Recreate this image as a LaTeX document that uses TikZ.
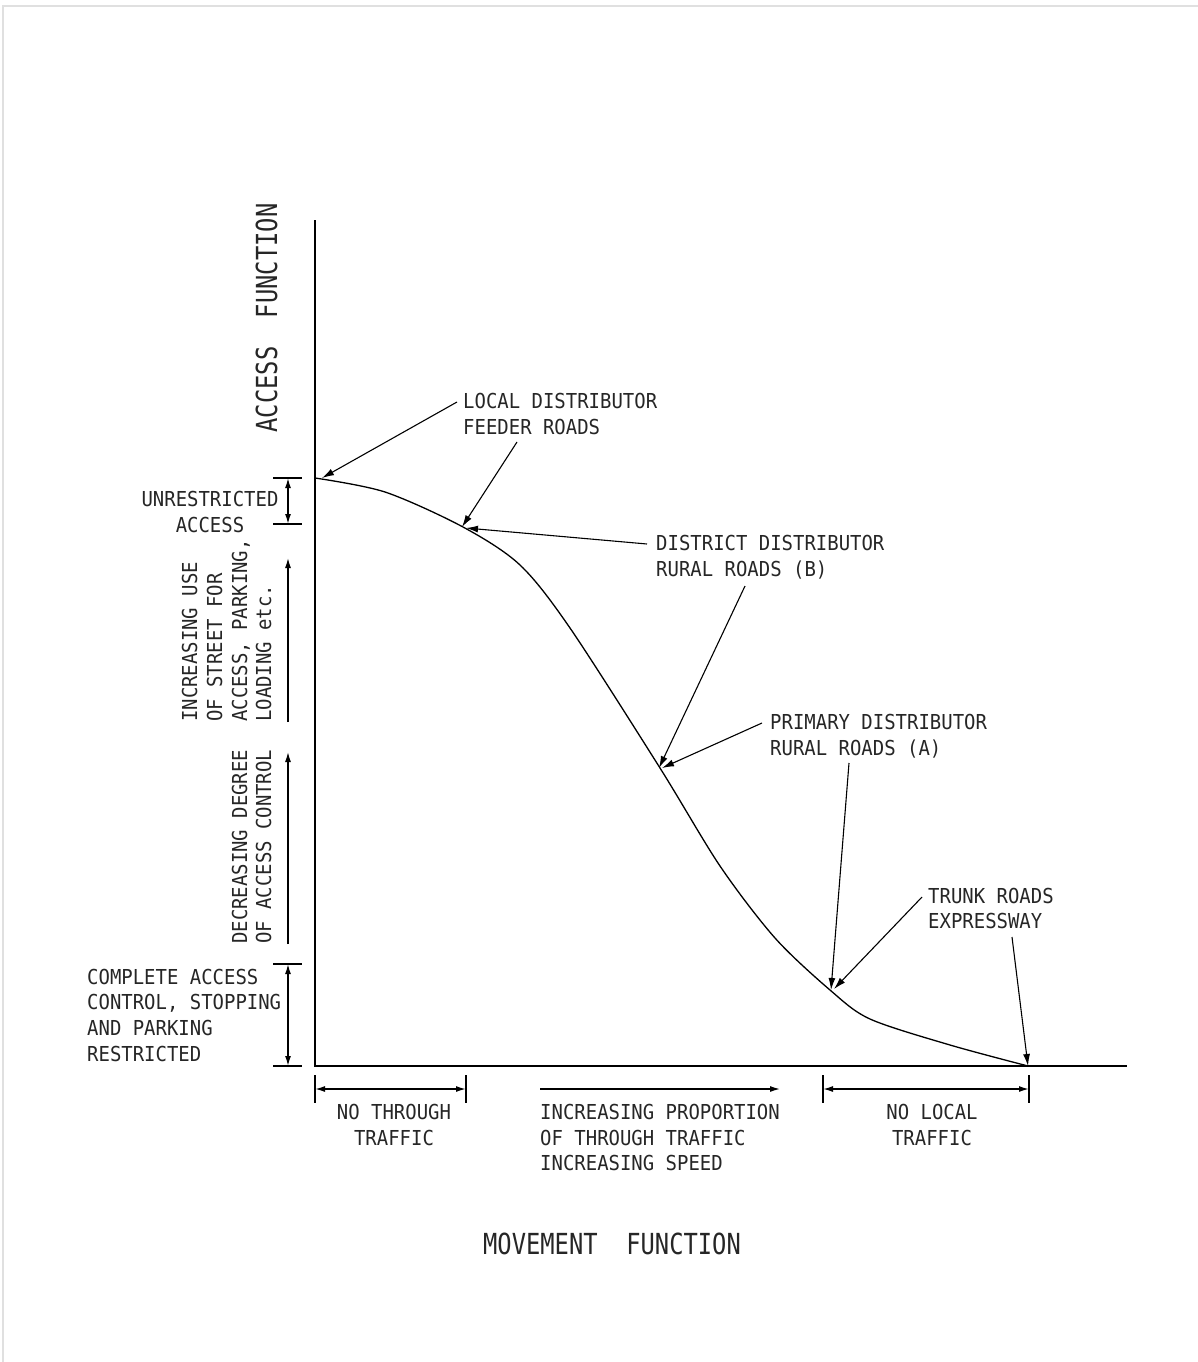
\documentclass[tikz,border=0pt]{standalone}
\usepackage{fontspec}
\usetikzlibrary{arrows.meta}
\newfontfamily\cadsmall[FakeStretch=0.92]{DejaVu Sans Mono}
\newfontfamily\cadbig[FakeStretch=0.82]{DejaVu Sans Mono}
\begin{document}
\begin{tikzpicture}[x=1pt,y=-1pt,
  lbl/.style={font=\cadsmall\fontsize{20.6}{25}\selectfont, inner sep=0pt, anchor=base west, text=black!85},
  lblc/.style={lbl, anchor=base},
  rlbl/.style={lbl, rotate=90, anchor=base west},
  bigtxt/.style={font=\cadbig\fontsize{29}{34}\selectfont, inner sep=0pt, anchor=base, text=black!85},
  leader/.style={line width=1.1pt, -{Latex[length=12pt,width=7pt]}},
  dimline/.style={line width=1.5pt, {Latex[length=10pt,width=6pt]}-{Latex[length=10pt,width=6pt]}},
  uparrow/.style={line width=1.3pt, -{Latex[length=10pt,width=6pt]}},
  tickline/.style={line width=1.2pt},
  axisline/.style={line width=1.8pt},
  curveline/.style={line width=1.3pt}
]
\useasboundingbox (0,0) rectangle (1198,1362);
\draw[black!12, line width=1.5pt] (3,1362) -- (3,6) -- (1198,6);

% axes
\coordinate (O) at (315,1066);
\coordinate (Ytop) at (315,220);
\coordinate (Xend) at (1127,1066);
\draw[axisline] (Ytop) -- (O) -- (Xend);

% curve
\draw[curveline] plot[smooth,tension=0.5] coordinates {(315,478) (385,492) (463,527) (520,565) (570,628) (660,768) (720,866) (775,938) (830,990) (870,1019) (950,1045) (1028,1066)};

% curve points for leaders
\coordinate (c0) at (322,478);
\coordinate (c1) at (462,527);
\coordinate (c1b) at (466,528);
\coordinate (c2) at (659,768);
\coordinate (c2b) at (662,768);
\coordinate (c3) at (831,990);
\coordinate (c3b) at (834,989);
\coordinate (c4) at (1028,1066);

% labels
\node[lbl] (t1a) at (463,408) {LOCAL DISTRIBUTOR};
\node[lbl] (t1b) at (463,434) {FEEDER ROADS};
\node[lbl] (t2a) at (656,550) {DISTRICT DISTRIBUTOR};
\node[lbl] (t2b) at (656,576) {RURAL ROADS (B)};
\node[lbl] (t3a) at (770,729) {PRIMARY DISTRIBUTOR};
\node[lbl] (t3b) at (770,755) {RURAL ROADS (A)};
\node[lbl] (t4a) at (928,903) {TRUNK ROADS};
\node[lbl] (t4b) at (928,928) {EXPRESSWAY};

% leader start points
\coordinate (s1) at (457,402);
\coordinate (s1b) at (517,442);
\coordinate (s2) at (647,544);
\coordinate (s2b) at (745,586);
\coordinate (s3) at (762,723);
\coordinate (s3b) at (849,763);
\coordinate (s4) at (922,897);
\coordinate (s4b) at (1012,937);

\draw[leader] (s1) -- (c0);
\draw[leader] (s1b) -- (c1);
\draw[leader] (s2) -- (c1b);
\draw[leader] (s2b) -- (c2);
\draw[leader] (s3) -- (c2b);
\draw[leader] (s3b) -- (c3);
\draw[leader] (s4) -- (c3b);
\draw[leader] (s4b) -- (c4);

% left dimension: unrestricted access
\coordinate (ua1) at (273,478); \coordinate (ua2) at (302,478);
\coordinate (ub1) at (273,524); \coordinate (ub2) at (302,524);
\draw[tickline] (ua1) -- (ua2);
\draw[tickline] (ub1) -- (ub2);
\coordinate (ud1) at (288,478); \coordinate (ud2) at (288,524);
\draw[dimline] (ud1) -- (ud2);
\node[lblc] (u1) at (210,506) {UNRESTRICTED};
\node[lblc] (u2) at (210,532) {ACCESS};

% up arrows
\coordinate (ar1a) at (288,722); \coordinate (ar1b) at (288,558);
\coordinate (ar2a) at (288,944); \coordinate (ar2b) at (288,752);
\draw[uparrow] (ar1a) -- (ar1b);
\draw[uparrow] (ar2a) -- (ar2b);
\node[rlbl] (r1) at (197,722) {INCREASING USE};
\node[rlbl] (r2) at (222,722) {OF STREET FOR};
\node[rlbl] (r3) at (247,722) {ACCESS, PARKING,};
\node[rlbl] (r4) at (271,722) {LOADING etc.};
\node[rlbl] (r5) at (247,944) {DECREASING DEGREE};
\node[rlbl] (r6) at (271,944) {OF ACCESS CONTROL};

% complete access control
\coordinate (ca1) at (273,964); \coordinate (ca2) at (302,964);
\coordinate (cb1) at (273,1066); \coordinate (cb2) at (302,1066);
\draw[tickline] (ca1) -- (ca2);
\draw[tickline] (cb1) -- (cb2);
\coordinate (cd1) at (288,964); \coordinate (cd2) at (288,1066);
\draw[dimline] (cd1) -- (cd2);
\node[lbl] (k1) at (87,984) {COMPLETE ACCESS};
\node[lbl] (k2) at (87,1009) {CONTROL, STOPPING};
\node[lbl] (k3) at (87,1035) {AND PARKING};
\node[lbl] (k4) at (87,1061) {RESTRICTED};

% bottom: no through traffic
\coordinate (na1) at (315,1075); \coordinate (na2) at (315,1103);
\coordinate (nb1) at (466,1075); \coordinate (nb2) at (466,1103);
\draw[tickline] (na1) -- (na2);
\draw[tickline] (nb1) -- (nb2);
\coordinate (nd1) at (315,1089); \coordinate (nd2) at (466,1089);
\draw[dimline] (nd1) -- (nd2);
\node[lblc] (n1) at (394,1119) {NO THROUGH};
\node[lblc] (n2) at (394,1145) {TRAFFIC};

% increasing proportion
\coordinate (pa) at (540,1089); \coordinate (pb) at (780,1089);
\draw[uparrow] (pa) -- (pb);
\node[lbl] (p1) at (540,1119) {INCREASING PROPORTION};
\node[lbl] (p2) at (540,1145) {OF THROUGH TRAFFIC};
\node[lbl] (p3) at (540,1170) {INCREASING SPEED};

% no local traffic
\coordinate (la1) at (823,1075); \coordinate (la2) at (823,1103);
\coordinate (lb1) at (1029,1075); \coordinate (lb2) at (1029,1103);
\draw[tickline] (la1) -- (la2);
\draw[tickline] (lb1) -- (lb2);
\coordinate (ld1) at (823,1089); \coordinate (ld2) at (1029,1089);
\draw[dimline] (ld1) -- (ld2);
\node[lblc] (m1) at (932,1119) {NO LOCAL};
\node[lblc] (m2) at (932,1145) {TRAFFIC};

% axis titles
\node[bigtxt] (xt) at (612,1254) {MOVEMENT\ \ FUNCTION};
\node[bigtxt, rotate=90] (yt) at (277,318) {ACCESS\ \ FUNCTION};
\end{tikzpicture}
\end{document}
